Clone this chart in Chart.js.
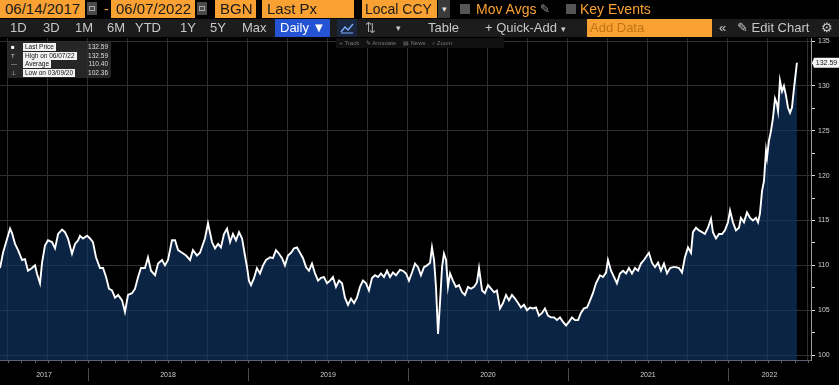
<!DOCTYPE html>
<html>
<head>
<meta charset="utf-8">
<script src="https://cdn.jsdelivr.net/npm/chart.js@4.4.0/dist/chart.umd.min.js"></script>
<style>
  html, body { margin: 0; padding: 0; background: #000; }
  body { width: 839px; height: 385px; position: relative; overflow: hidden; font-family: "Liberation Sans", Arial, sans-serif; }
  #chart { position: absolute; left: 0; top: 0; }
  .abs { position: absolute; white-space: nowrap; }
  .obox { position: absolute; top: 0; height: 18px; background: #f9a132; color: #1a1a1a; font-size: 15px; line-height: 18px; padding-left: 5px; box-sizing: border-box; white-space: nowrap; overflow: hidden; }
  .cal { position: absolute; top: 2px; width: 10px; height: 13px; background: #4a4a4a; }
  .cal:after { content: ""; position: absolute; left: 2px; top: 4px; width: 6px; height: 5px; border: 1px solid #aaa; box-sizing: border-box; }
  .cb { position: absolute; top: 4px; width: 10px; height: 10px; background: #555; }
  .otxt { position: absolute; top: 0; color: #f9a132; font-size: 14px; line-height: 18px; white-space: nowrap; }
  #row2 { position: absolute; left: 0; top: 19px; width: 839px; height: 18px; background: #1c1c1c; }
  .btn { position: absolute; top: 0; height: 18px; color: #c8c8c8; font-size: 13px; line-height: 18px; white-space: nowrap; }
  #legend { position: absolute; left: 7px; top: 41px; width: 104px; height: 37px; background: rgba(45,45,45,0.85); border-radius: 2px; font-size: 6.5px; }
  .lrow { position: absolute; left: 0; height: 8px; line-height: 8px; width: 104px; }
  .lic { position: absolute; left: 4px; top: 0; color: #ccc; font-size: 6px; }
  .llab { position: absolute; left: 16px; top: 0; background: #f2f2f2; color: #111; padding: 0 2px; }
  .lval { position: absolute; right: 3px; top: 0; color: #ddd; }
  #tools { position: absolute; left: 336px; top: 38px; width: 168px; height: 10px; background: #111; color: #777; font-size: 6px; line-height: 10px; white-space: nowrap; }
</style>
</head>
<body>
<canvas id="chart" width="839" height="385"></canvas>

<!-- top toolbar, row 1 -->
<div class="obox" style="left:0;width:85px;">06/14/2017</div>
<div class="cal" style="left:87px;"></div>
<div class="otxt" style="left:104px;">-</div>
<div class="obox" style="left:111px;width:84px;">06/07/2022</div>
<div class="cal" style="left:197px;"></div>
<div class="obox" style="left:215px;width:41px;">BGN</div>
<div class="obox" style="left:262px;width:92px;">Last Px</div>
<div class="obox" style="left:362px;width:75px;padding-left:3px;font-size:14px;">Local CCY</div>
<div class="abs" style="left:438px;top:0;width:12px;height:18px;background:#3a3a3a;color:#ddd;font-size:9px;line-height:18px;text-align:center;">▾</div>
<div class="cb" style="left:460px;"></div>
<div class="otxt" style="left:476px;">Mov Avgs</div>
<div class="abs" style="left:540px;top:0;color:#999;font-size:12px;line-height:18px;">✎</div>
<div class="cb" style="left:566px;"></div>
<div class="otxt" style="left:580px;">Key Events</div>

<!-- top toolbar, row 2 -->
<div id="row2">
  <div class="btn" style="left:10px;">1D</div>
  <div class="btn" style="left:43px;">3D</div>
  <div class="btn" style="left:75px;">1M</div>
  <div class="btn" style="left:107px;">6M</div>
  <div class="btn" style="left:135px;">YTD</div>
  <div class="btn" style="left:180px;">1Y</div>
  <div class="btn" style="left:210px;">5Y</div>
  <div class="btn" style="left:242px;">Max</div>
  <div class="btn" style="left:275px;width:55px;background:#2453d4;color:#fff;padding-left:5px;box-sizing:border-box;">Daily ▼</div>
  <div class="btn" style="left:337px;width:20px;background:#1b2740;">
    <svg width="20" height="18"><polyline points="4,13 8,8 11,11 16,5" fill="none" stroke="#7fb0ff" stroke-width="1.3"/><line x1="4" y1="14" x2="16" y2="14" stroke="#7fb0ff" stroke-width="1"/></svg>
  </div>
  <div class="btn" style="left:365px;color:#aaa;">⇅</div>
  <div class="btn" style="left:396px;font-size:9px;">▾</div>
  <div class="btn" style="left:428px;">Table</div>
  <div class="btn" style="left:485px;">+ Quick-Add <span style="font-size:9px;">▾</span></div>
  <div class="btn" style="left:587px;width:125px;background:#f9a132;color:#c07414;padding-left:3px;box-sizing:border-box;">Add Data</div>
  <div class="btn" style="left:719px;">«</div>
  <div class="btn" style="left:737px;">✎ Edit Chart</div>
  <div class="btn" style="left:821px;">⚙</div>
</div>

<div id="tools">&nbsp;&nbsp;+ Track &nbsp;&nbsp;&nbsp;✎ Annotate &nbsp;&nbsp;&nbsp;▤ News &nbsp;&nbsp;&nbsp;⌕ Zoom</div>

<div id="legend">
  <div class="lrow" style="top:2px;"><span class="lic" style="color:#fff;">■</span><span class="llab">Last Price</span><span class="lval">132.59</span></div>
  <div class="lrow" style="top:10.5px;"><span class="lic">T</span><span class="llab">High on 06/07/22</span><span class="lval">132.59</span></div>
  <div class="lrow" style="top:19px;"><span class="lic">—</span><span class="llab">Average</span><span class="lval">110.40</span></div>
  <div class="lrow" style="top:27.5px;"><span class="lic">⊥</span><span class="llab">Low on 03/09/20</span><span class="lval">102.36</span></div>
</div>

<script>
// time in decimal years, price
const dates = [
  2017.450, 2017.469, 2017.513, 2017.525, 2017.544, 2017.563, 2017.588, 2017.606, 2017.625, 2017.650,
  2017.669, 2017.681, 2017.700, 2017.713, 2017.731, 2017.750, 2017.775, 2017.794, 2017.813, 2017.838,
  2017.856, 2017.875, 2017.900, 2017.919, 2017.938, 2017.950, 2017.969, 2017.994, 2018.013, 2018.031,
  2018.050, 2018.075, 2018.094, 2018.113, 2018.131, 2018.150, 2018.169, 2018.188, 2018.213, 2018.231,
  2018.250, 2018.275, 2018.294, 2018.313, 2018.331, 2018.356, 2018.375, 2018.394, 2018.419, 2018.438,
  2018.463, 2018.481, 2018.500, 2018.525, 2018.544, 2018.563, 2018.588, 2018.613, 2018.638, 2018.656,
  2018.681, 2018.700, 2018.731, 2018.750, 2018.775, 2018.794, 2018.813, 2018.831, 2018.850, 2018.869,
  2018.888, 2018.906, 2018.925, 2018.944, 2018.963, 2018.981, 2018.994, 2019.006, 2019.019, 2019.038,
  2019.056, 2019.075, 2019.094, 2019.113, 2019.138, 2019.156, 2019.175, 2019.194, 2019.213, 2019.231,
  2019.250, 2019.269, 2019.288, 2019.306, 2019.325, 2019.344, 2019.363, 2019.381, 2019.400, 2019.419,
  2019.438, 2019.456, 2019.475, 2019.494, 2019.513, 2019.531, 2019.550, 2019.569, 2019.588, 2019.606,
  2019.625, 2019.644, 2019.663, 2019.681, 2019.700, 2019.719, 2019.738, 2019.756, 2019.775, 2019.794,
  2019.813, 2019.831, 2019.850, 2019.869, 2019.888, 2019.906, 2019.925, 2019.950, 2019.969, 2019.988,
  2020.006, 2020.025, 2020.044, 2020.063, 2020.081, 2020.100, 2020.119, 2020.138, 2020.150, 2020.163,
  2020.175, 2020.188, 2020.200, 2020.213, 2020.225, 2020.238, 2020.250, 2020.263, 2020.281, 2020.300,
  2020.319, 2020.338, 2020.356, 2020.375, 2020.394, 2020.413, 2020.431, 2020.444, 2020.463, 2020.481,
  2020.500, 2020.519, 2020.538, 2020.556, 2020.575, 2020.594, 2020.613, 2020.631, 2020.650, 2020.669,
  2020.688, 2020.706, 2020.725, 2020.744, 2020.763, 2020.781, 2020.800, 2020.819, 2020.838, 2020.856,
  2020.875, 2020.894, 2020.913, 2020.931, 2020.950, 2020.969, 2020.988, 2021.006, 2021.025, 2021.044,
  2021.063, 2021.081, 2021.100, 2021.119, 2021.138, 2021.156, 2021.175, 2021.200, 2021.219, 2021.238,
  2021.250, 2021.269, 2021.288, 2021.306, 2021.325, 2021.344, 2021.363, 2021.381, 2021.400, 2021.419,
  2021.438, 2021.456, 2021.475, 2021.494, 2021.506, 2021.525, 2021.544, 2021.563, 2021.581, 2021.600,
  2021.619, 2021.638, 2021.656, 2021.675, 2021.694, 2021.713, 2021.731, 2021.750, 2021.769, 2021.781,
  2021.800, 2021.819, 2021.838, 2021.856, 2021.875, 2021.894, 2021.906, 2021.925, 2021.944, 2021.963,
  2021.981, 2022.000, 2022.013, 2022.031, 2022.050, 2022.069, 2022.081, 2022.100, 2022.119, 2022.138,
  2022.156, 2022.175, 2022.188, 2022.200, 2022.213, 2022.225, 2022.238, 2022.244, 2022.256, 2022.269,
  2022.281, 2022.294, 2022.306, 2022.313, 2022.325, 2022.338, 2022.350, 2022.363, 2022.375, 2022.388,
  2022.400, 2022.413, 2022.431
];

const prices = [
  109.7, 111.4, 114.1, 113.6, 112.4, 111.7, 110.6, 110.7, 109.4, 109.7,
  110.0, 109.1, 108.0, 110.3, 112.2, 112.8, 112.6, 111.9, 113.5, 114.0,
  113.7, 113.0, 111.3, 112.4, 112.8, 113.3, 113.0, 113.3, 113.0, 112.6,
  110.9, 109.7, 109.7, 108.7, 107.4, 107.2, 106.4, 106.7, 106.1, 104.8,
  106.7, 106.9, 107.4, 108.7, 109.7, 109.7, 110.9, 109.4, 108.9, 110.2,
  110.6, 110.0, 110.6, 112.8, 112.8, 111.7, 111.4, 111.1, 110.6, 111.7,
  111.1, 111.4, 113.0, 114.7, 112.6, 111.9, 112.4, 112.0, 113.5, 114.1,
  112.6, 113.5, 112.8, 113.7, 113.0, 111.1, 109.8, 108.3, 107.8, 108.6,
  109.7, 109.1, 110.0, 110.6, 110.9, 110.8, 111.7, 111.3, 110.8, 110.0,
  111.1, 111.4, 111.9, 112.0, 111.4, 110.8, 109.8, 109.4, 110.2, 109.1,
  108.3, 108.6, 108.7, 108.0, 108.3, 108.7, 107.6, 108.3, 108.0, 106.4,
  105.6, 106.3, 105.8, 106.4, 107.6, 108.3, 108.0, 107.2, 108.6, 108.9,
  108.7, 109.1, 108.7, 109.4, 108.7, 109.2, 108.9, 109.5, 109.4, 109.1,
  108.3, 109.2, 110.2, 109.8, 108.9, 109.8, 110.0, 110.3, 112.0, 110.6,
  107.6, 102.36, 105.8, 109.8, 111.3, 110.6, 107.6, 109.1, 108.3, 107.6,
  107.8, 107.0, 106.7, 107.6, 107.4, 107.6, 108.1, 109.7, 107.2, 106.9,
  107.8, 107.4, 107.0, 107.2, 105.2, 105.8, 106.7, 106.1, 106.7, 106.3,
  105.8, 105.3, 105.6, 105.0, 105.3, 105.2, 105.3, 104.4, 104.7, 105.2,
  104.4, 104.2, 104.2, 103.9, 104.2, 103.7, 103.3, 103.7, 104.2, 103.9,
  103.9, 104.7, 105.2, 105.3, 106.1, 106.9, 108.0, 108.9, 108.7, 109.2,
  110.6, 109.4, 108.7, 108.0, 109.1, 109.4, 109.1, 109.7, 109.1, 109.7,
  109.4, 110.2, 110.6, 111.1, 111.4, 110.3, 109.8, 110.3, 109.4, 110.2,
  109.1, 109.7, 109.8, 109.8, 109.7, 109.2, 110.9, 112.0, 111.4, 113.7,
  114.2, 113.9, 113.7, 113.5, 114.2, 115.2, 113.7, 113.0, 113.5, 113.5,
  113.9, 114.8, 116.1, 114.8, 113.9, 114.2, 115.3, 114.8, 115.9, 115.3,
  115.0, 115.3, 114.8, 115.8, 118.3, 119.4, 122.8, 122.0, 123.9, 125.0,
  126.4, 128.6, 128.0, 127.2, 130.6, 129.4, 130.0, 128.9, 127.6, 127.0,
  127.6, 129.8, 132.59
];

const years = [2017, 2018, 2019, 2020, 2021, 2022];
const priceTicks = [100, 105, 110, 115, 120, 125, 130, 135];

// quarter grid lines and half-step minor ticks on the price axis
const quarterTicks = [];
for (let q = 2017.5; q <= 2022.5; q += 0.25) quarterTicks.push(q);
const minorTicks = [];
priceTicks.forEach(v => { minorTicks.push(v); if (v < 135) minorTicks.push(v + 2.5); });

const yearBand = {
    id: 'yearBand',
    afterDraw(chart) {
        const { ctx, chartArea } = chart;
        const x = chart.scales.x;
        const top = chartArea.bottom;
        ctx.save();
        ctx.strokeStyle = '#5b6270';
        ctx.lineWidth = 1;
        ctx.beginPath();
        ctx.moveTo(chartArea.left, top + 0.5);
        ctx.lineTo(chartArea.right, top + 0.5);
        ctx.stroke();

        // monthly ticks
        ctx.beginPath();
        years.forEach(yr => {
            for (let m = 0; m < 12; m++) {
                const v = yr + m / 12;
                if (v < x.min || v > x.max) continue;
                const px = Math.round(x.getPixelForValue(v)) + 0.5;
                ctx.moveTo(px, top);
                ctx.lineTo(px, top + 3);
            }
        });
        ctx.stroke();

        ctx.font = '7px "Liberation Sans", Arial, sans-serif';
        ctx.fillStyle = '#cfcfcf';
        ctx.textAlign = 'center';
        ctx.textBaseline = 'middle';
        ctx.strokeStyle = '#4a4a4a';
        years.forEach((yr, i) => {
            const a = x.getPixelForValue(Math.max(yr, x.min));
            const b = x.getPixelForValue(Math.min(yr + 1, x.max));
            if (i > 0) {
                const px = Math.round(a) + 0.5;
                ctx.beginPath();
                ctx.moveTo(px, top + 8);
                ctx.lineTo(px, top + 21);
                ctx.stroke();
            }
            ctx.fillText(String(yr), (a + b) / 2, top + 15);
        });
        ctx.restore();
    }
};

const lastTag = {
    id: 'lastTag',
    afterDraw(chart) {
        const { ctx, chartArea } = chart;
        const y = chart.scales.y;
        const v = prices[prices.length - 1];
        const py = y.getPixelForValue(v);
        const left = chartArea.right + 3;
        ctx.save();
        ctx.fillStyle = '#f4f4f4';
        ctx.beginPath();
        ctx.moveTo(chartArea.right + 1, py);
        ctx.lineTo(left, py - 5);
        ctx.lineTo(left + 25, py - 5);
        ctx.lineTo(left + 25, py + 5);
        ctx.lineTo(left, py + 5);
        ctx.closePath();
        ctx.fill();
        ctx.fillStyle = '#111';
        ctx.font = '7px "Liberation Sans", Arial, sans-serif';
        ctx.textAlign = 'center';
        ctx.textBaseline = 'middle';
        ctx.fillText(v.toFixed(2), left + 12.5, py + 0.5);
        ctx.restore();
    }
};

const ctx = document.getElementById('chart').getContext('2d');
new Chart(ctx, {
    type: 'line',
    data: {
        datasets: [{
            label: 'Last Price',
            data: dates.map((d, i) => ({ x: d, y: prices[i] })),
            borderColor: '#ffffff',
            borderWidth: 1.9,
            pointRadius: 0,
            tension: 0,
            fill: 'start',
            backgroundColor: 'rgba(18, 58, 108, 0.62)'
        }]
    },
    options: {
        responsive: false,
        animation: false,
        layout: { padding: { top: 38, left: 0, right: 0, bottom: 0 } },
        plugins: {
            legend: { display: false },
            tooltip: { enabled: false }
        },
        scales: {
            x: {
                type: 'linear',
                min: 2017.45,
                max: 2022.519,
                afterBuildTicks: s => { s.ticks = quarterTicks.map(v => ({ value: v })); },
                ticks: { display: false },
                grid: { color: '#2f2f2f', drawTicks: false },
                border: { display: false },
                afterFit: s => { s.height = 25; }
            },
            y: {
                position: 'right',
                min: 99.45,
                max: 135.35,
                afterBuildTicks: s => { s.ticks = minorTicks.map(v => ({ value: v })); },
                ticks: {
                    color: '#cfcfcf',
                    autoSkip: false,
                    padding: 3,
                    font: { size: 7, family: '"Liberation Sans", Arial, sans-serif' },
                    callback: v => (v % 5 === 0 ? v : '')
                },
                grid: {
                    color: c => (c.tick && c.tick.value % 5 === 0 ? '#2f2f2f' : 'rgba(0,0,0,0)'),
                    tickColor: '#dddddd',
                    tickLength: 4
                },
                border: { display: true, color: '#9a9a9a' },
                afterFit: s => { s.width = 28; }
            }
        }
    },
    plugins: [yearBand, lastTag]
});
</script>
</body>
</html>
